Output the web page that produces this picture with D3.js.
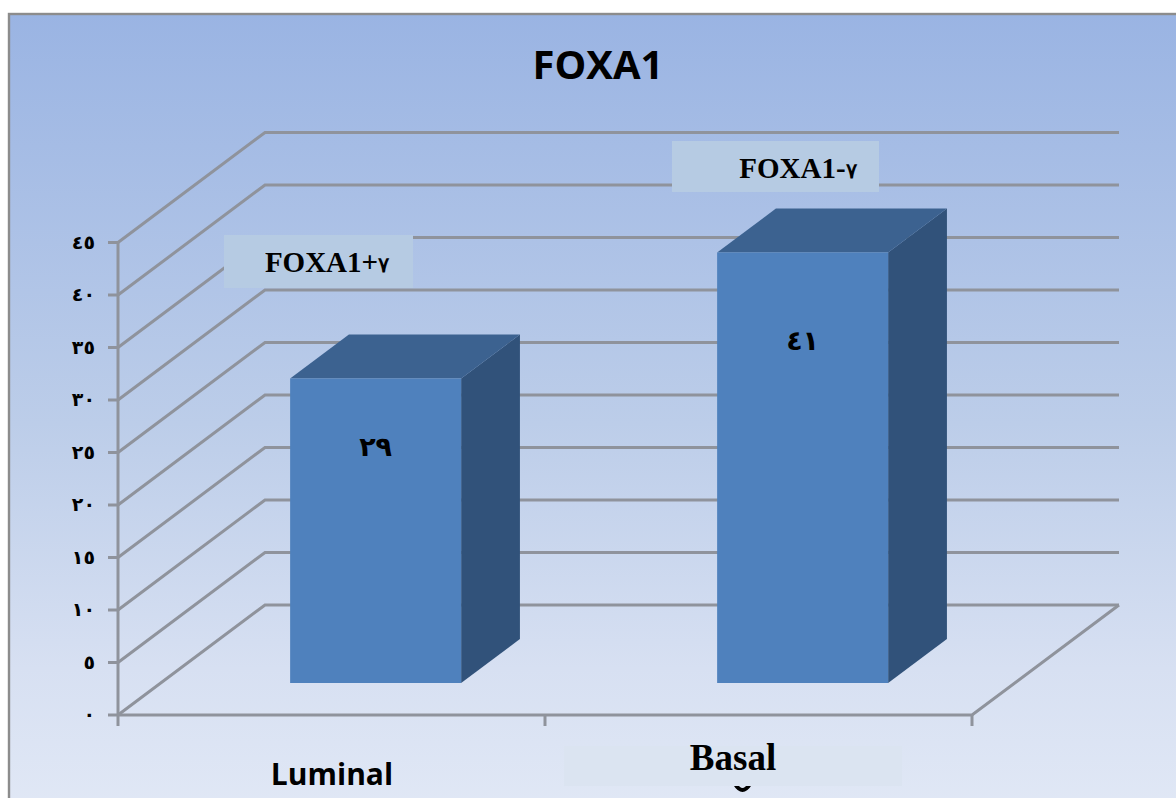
<!DOCTYPE html>
<html>
<head>
<meta charset="utf-8">
<script src="https://cdn.jsdelivr.net/npm/d3@7/dist/d3.min.js"></script>
<style>
html,body{margin:0;padding:0;background:#fff;overflow:hidden}
svg{display:block}
</style>
</head>
<body>
<svg id="chart" width="1176" height="798"></svg>
<script>
// Chart content
const chartTitle = "FOXA1";
const categories = ["Luminal", "Basal"];
const seriesValues = [29, 41];
const seriesNames = ["FOXA1+", "FOXA1-"];
const seriesSuffix = "٧";
const tickValues = [0, 5, 10, 15, 20, 25, 30, 35, 40, 45];

// Western digits to Arabic-Indic digits
const arabicDigits = "٠١٢٣٤٥٦٧٨٩";
const toArabic = v => String(v).replace(/\d/g, d => arabicDigits[+d]);

const svg = d3.select("#chart");
const W = 1176, H = 798;

// Oblique projection: x along the floor, value upwards, depth into the wall
const xScale = d3.scaleBand().domain(categories).range([118, 972]);
const yScale = d3.scaleLinear().domain([0, 45]).range([715, 242.5]);
const depthX = d3.scaleLinear().domain([0, 1]).range([0, 147]);
const depthY = d3.scaleLinear().domain([0, 1]).range([0, -110]);
const project = (x, v, d) => [x + depthX(d), yScale(v) + depthY(d)];
const barFront = 0.29, barBack = 0.69;
const barWidth = 171;

// Panel background
const defs = svg.append("defs");
const bg = defs.append("linearGradient").attr("id", "panelFill")
  .attr("x1", 0).attr("y1", 0).attr("x2", 0).attr("y2", 1);
[[0, "#9ab4e3"], [0.5, "#bccde9"], [0.8, "#d7e0f2"], [1, "#e2e9f6"]].forEach(([o, c]) =>
  bg.append("stop").attr("offset", o).attr("stop-color", c));

svg.append("rect").attr("x", 9).attr("y", 14).attr("width", W + 20).attr("height", H + 20)
  .attr("fill", "url(#panelFill)").attr("stroke", "#8c8c8c").attr("stroke-width", 2.4);

svg.append("text").attr("x", 598).attr("y", 79).attr("text-anchor", "middle")
  .attr("font-family", "'Open Sans', sans-serif").attr("font-weight", 700)
  .attr("font-size", 40).attr("fill", "#000").text(chartTitle);

// Gridlines running along the left wall and the back wall
const gridColor = "#8f939c";
const line = d3.line();
const floorRight = xScale.range()[1];
const grid = svg.append("g").attr("fill", "none").attr("stroke", gridColor).attr("stroke-width", 3);
grid.selectAll("path.wall").data(tickValues).join("path").attr("class", "wall")
  .attr("d", v => line([project(118, v, 0), project(118, v, 1), project(floorRight, v, 1)]));
grid.append("path")
  .attr("d", line([project(118, 0, 0), project(floorRight, 0, 0), project(floorRight, 0, 1)]));

// Value axis with its ticks and labels
const yAxis = svg.append("g").attr("stroke", gridColor).attr("stroke-width", 3);
yAxis.append("line").attr("x1", 118).attr("x2", 118)
  .attr("y1", yScale(45)).attr("y2", yScale(0) + 11);
yAxis.selectAll("line.tick").data(tickValues).join("line").attr("class", "tick")
  .attr("x1", 108).attr("x2", 118).attr("y1", yScale).attr("y2", yScale);
svg.append("g").selectAll("text").data(tickValues).join("text")
  .attr("x", 95).attr("y", v => yScale(v) + 6).attr("text-anchor", "end")
  .attr("direction", "ltr").attr("letter-spacing", 6)
  .attr("font-family", "'DejaVu Sans', sans-serif").attr("font-weight", 700)
  .attr("font-size", 19).attr("fill", "#000").text(toArabic);

// Category boundary ticks
yAxis.selectAll("line.cat").data([...categories.map(c => xScale(c)).slice(1), floorRight])
  .join("line").attr("class", "cat")
  .attr("x1", d => d).attr("x2", d => d).attr("y1", yScale(0)).attr("y2", yScale(0) + 11);

// Bars: side and top faces first, then the front face
const bars = svg.append("g").selectAll("g")
  .data(categories.map((c, i) => ({ c, v: seriesValues[i] }))).join("g");
const barLeft = d => xScale(d.c) + xScale.bandwidth() / 2 - barWidth / 2 + 1.5;
const facePath = (d, corners) =>
  line(corners.map(([dx, v, dep]) => project(barLeft(d) + dx, v, dep))) + "Z";
bars.append("path").attr("fill", "#31527a")
  .attr("d", d => facePath(d, [[barWidth, 0, barFront], [barWidth, d.v, barFront], [barWidth, d.v, barBack], [barWidth, 0, barBack]]));
bars.append("path").attr("fill", "#3c6290")
  .attr("d", d => facePath(d, [[0, d.v, barFront], [barWidth, d.v, barFront], [barWidth, d.v, barBack], [0, d.v, barBack]]));
bars.append("path").attr("fill", "#4f81bd")
  .attr("d", d => facePath(d, [[0, 0, barFront], [0, d.v, barFront], [barWidth, d.v, barFront], [barWidth, 0, barFront]]));

// Value labels inside the bars
bars.append("text").attr("text-anchor", "middle").attr("direction", "ltr").attr("letter-spacing", 9)
  .attr("x", d => project(barLeft(d) + barWidth / 2, 0, barFront)[0])
  .attr("y", d => project(0, d.v * 0.842 - 2.9, barFront)[1] - 1)
  .attr("font-family", "'DejaVu Sans', sans-serif").attr("font-weight", 700)
  .attr("font-size", 27).attr("fill", "#000").text(d => toArabic(d.v));

// Series name boxes above the bars
const seriesBoxes = [
  { x: 224, y: 235, w: 189, h: 53, tx: 327, ty: 272 },
  { x: 672, y: 141, w: 207, h: 51, tx: 798, ty: 178 }
];
const boxG = svg.append("g").selectAll("g").data(seriesBoxes).join("g");
boxG.append("rect").attr("x", d => d.x).attr("y", d => d.y).attr("width", d => d.w).attr("height", d => d.h)
  .attr("fill", "#b6cbe3");
const nameText = boxG.append("text").attr("text-anchor", "middle")
  .attr("x", d => d.tx).attr("y", d => d.ty)
  .attr("font-family", "'Liberation Serif', serif").attr("font-weight", 700)
  .attr("font-size", 29).attr("fill", "#000");
nameText.append("tspan").text((d, i) => seriesNames[i]);
nameText.append("tspan").attr("font-size", 21).text(seriesSuffix);

// Tail of a covered stroke peeking out under the pale box
svg.append("path").attr("fill", "none").attr("stroke", "#000").attr("stroke-width", 4)
  .attr("d", "M735,784 Q742.5,796 750,784");

// Category labels
svg.append("text").attr("x", 332).attr("y", 785).attr("text-anchor", "middle")
  .attr("font-family", "'Open Sans', sans-serif").attr("font-weight", 700)
  .attr("font-size", 30).attr("fill", "#000").text(categories[0]);
svg.append("rect").attr("x", 564).attr("y", 746).attr("width", 338).attr("height", 40).attr("fill", "#dbe4f1");
svg.append("text").attr("x", 733).attr("y", 770).attr("text-anchor", "middle")
  .attr("font-family", "'Liberation Serif', serif").attr("font-weight", 700)
  .attr("font-size", 37).attr("fill", "#000").text(categories[1]);
</script>
</body>
</html>
